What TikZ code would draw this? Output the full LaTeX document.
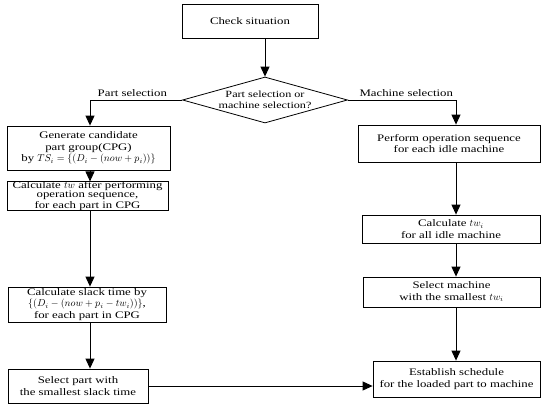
\documentclass[tikz,border=0pt]{standalone}
\usepackage{fontspec}
\setmainfont[FakeStretch=1.28]{Liberation Serif}
\usetikzlibrary{arrows.meta,shapes.geometric}

\begin{document}
\begin{tikzpicture}[x=1pt,y=-1pt,every node/.style={align=center,font=\fontsize{10}{11.5}\selectfont},
box/.style={draw,line width=.8pt,inner sep=1pt},
decision/.style={draw,diamond,aspect=3.6,inner sep=0pt,minimum width=165pt,minimum height=46pt,line width=.8pt},
flow/.style={line width=.9pt,-{Triangle[width=9pt,length=10pt]}}
]
\useasboundingbox (0,0) rectangle (541,406);
\node[box,minimum width=136pt,minimum height=34pt] (check) at (250,21) {Check situation};
\node[decision,font=\fontsize{9.5}{10.5}\selectfont] (dec) at (265,100) {Part selection or\\machine selection?};
\coordinate (colL) at (90,0);
\coordinate (colR) at (456,0);
% left: part selection
\node[box,minimum width=163pt,minimum height=44pt,inner sep=0pt] (cpg) at (88.5,148) {Generate candidate\\part group(CPG)\\by $TS_i=\{(D_i-(now+p_i))\}$};
\node[box,minimum width=161pt,minimum height=28pt,inner sep=0pt,font=\fontsize{10}{9}\selectfont] (tw) at (87.5,196) {Calculate $tw$ after performing\\operation sequence,\\for each part in CPG};
\node[box,minimum width=158pt,minimum height=35pt,inner sep=0pt,font=\fontsize{10}{11.5}\selectfont] (slack) at (87,304.5) {Calculate slack time by\\$\{(D_i-(now+p_i-tw_i))\}$,\\for each part in CPG};
\node[box,minimum width=140pt,minimum height=34pt] (part) at (78,386) {Select part with\\the smallest slack time};
% right: machine selection
\node[box,minimum width=182pt,minimum height=37pt] (perf) at (449,143.5) {Perform operation sequence\\for each idle machine};
\node[box,minimum width=178pt,minimum height=28pt] (calc) at (451,229) {Calculate $tw_i$\\for all idle machine};
\node[box,minimum width=177pt,minimum height=30pt] (mach) at (451.5,292) {Select machine\\with the smallest $tw_i$};
\node[box,minimum width=167pt,minimum height=36pt] (sched) at (456.5,379) {Establish schedule\\for the loaded part to machine};

\draw[flow] (check.south -| dec.north) -- (dec.north);
\draw[flow] (dec.west) -| node[pos=.27,above] {Part selection} (cpg.north -| colL);
\draw[flow] (dec.east) -| node[pos=.27,above] {Machine selection} (perf.north -| colR);
\draw[flow] (cpg.south -| colL) -- (tw.north -| colL);
\draw[flow] (tw.south -| colL) -- (slack.north -| colL);
\draw[flow] (slack.south -| colL) -- (part.north -| colL);
\draw[flow] (perf.south -| colR) -- (calc.north -| colR);
\draw[flow] (calc.south -| colR) -- (mach.north -| colR);
\draw[flow] (mach.south -| colR) -- (sched.north -| colR);
\draw[flow] (part.east) -- (part.east -| sched.west); % <- joins the two sides
\end{tikzpicture}
\end{document}
